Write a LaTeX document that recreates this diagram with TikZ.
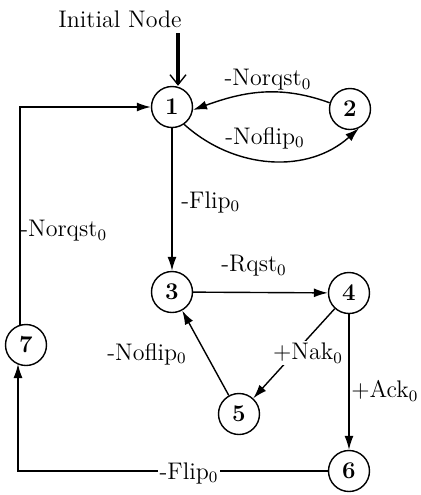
\documentclass[tikz,border=0pt]{standalone}
\usetikzlibrary{arrows.meta}
\begin{document}
\begin{tikzpicture}[x=0.5pt,y=-0.5pt,
  state/.style={circle,draw,line width=0.7pt,minimum size=20.5pt,inner sep=0pt,
    font=\fontsize{12}{14}\selectfont\bfseries},
  edge/.style={draw,line width=0.7pt,-{Latex[length=7pt,width=4.5pt]}},
  lbl/.style={font=\fontsize{12}{14}\selectfont,inner sep=1pt},
  ]
\useasboundingbox (0,0) rectangle (421,495);

% states
\node[state] (n1) at (172,107) {1};
\node[state] (n2) at (350,109) {2};
\node[state] (n3) at (172,292) {3};
\node[state] (n4) at (349,293) {4};
\node[state] (n5) at (239,414) {5};
\node[state] (n6) at (349,471) {6};
\node[state] (n7) at (26,345) {7};

% entry arrow
\node[lbl] (init) at (120,19) {Initial Node};
\coordinate (s0) at (178,33);
\draw[line width=1.6pt,-{Straight Barb[line width=0.7pt,length=5pt,width=8pt]}]
  (s0) -- (s0 |- n1.north);

% 1 <-> 2
\draw[edge] (n2.163) to[out=160,in=20] (n1.-8);
\node[lbl] (l21) at (268,80) {-Norqst$_0$};
\draw[edge] (n1.-55) to[out=-42,in=-138] (n2.-65);
\node[lbl] (l12) at (265,138) {-Noflip$_0$};

% 1 -> 3
\draw[edge] (n1) -- (n3);
\node[lbl,anchor=west] (l13) at (179,202) {-Flip$_0$};

% 3 -> 4
\draw[edge] (n3) -- (n4);
\node[lbl] (l34) at (254,266) {-Rqst$_0$};

% 4 -> 5
\draw[edge] (n4) -- (n5);
\node[lbl,fill=white] (l45) at (308,353) {+Nak$_0$};

% 5 -> 3
\draw[edge] (n5) -- (n3);
\node[lbl] (l53) at (147,354) {-Noflip$_0$};

% 4 -> 6
\draw[edge] (n4) -- (n6);
\node[lbl,anchor=west] (l46) at (349,391) {+Ack$_0$};

% 6 -> 7
\coordinate (c7b) at (18,364);
\draw[edge] (n6.west) -| (c7b);
\node[lbl,fill=white] (l67) at (189,473) {-Flip$_0$};

% 7 -> 1
\coordinate (c7t) at (20,326);
\draw[edge] (c7t) |- (n1.west);
\node[lbl,anchor=west] (l71) at (18,231) {-Norqst$_0$};
\end{tikzpicture}
\end{document}
